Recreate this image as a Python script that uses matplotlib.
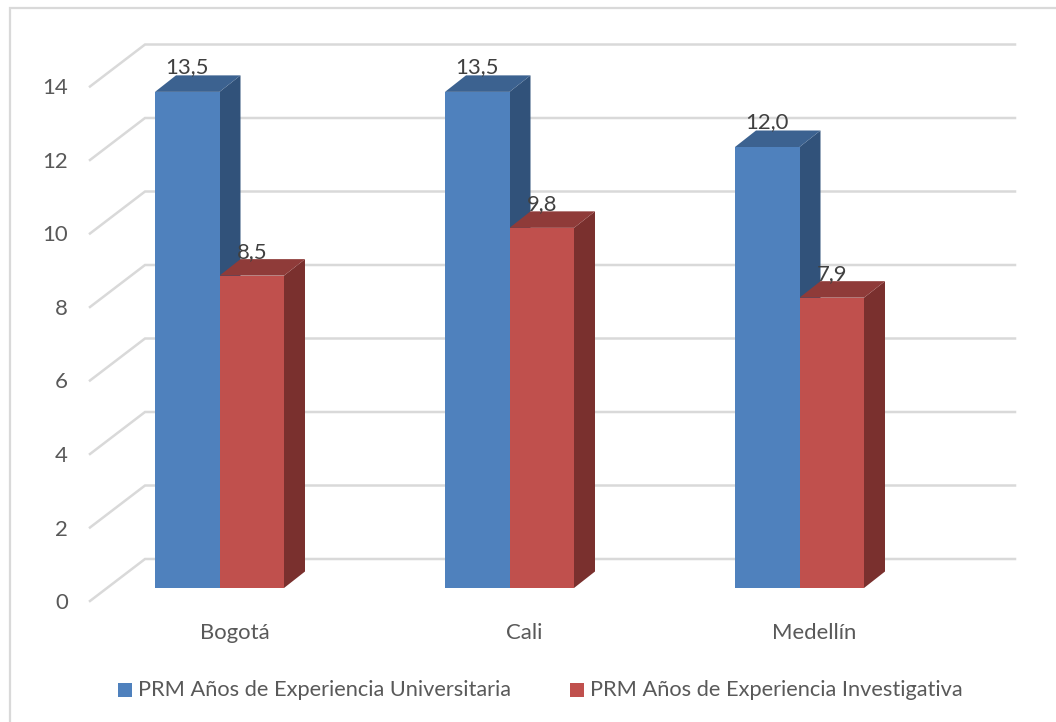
import matplotlib
matplotlib.use("Agg")
import matplotlib.pyplot as plt
from matplotlib.patches import Polygon, Rectangle

plt.rcParams["font.family"] = ["Lato", "DejaVu Sans"]

cities = ["Bogotá", "Cali", "Medellín"]
series_names = ["PRM Años de Experiencia Universitaria", "PRM Años de Experiencia Investigativa"]
university = [13.5, 13.5, 12.0]
research = [8.5, 9.8, 7.9]
value_labels_u = ["13,5", "13,5", "12,0"]
value_labels_r = ["8,5", "9,8", "7,9"]
y_ticks = [0, 2, 4, 6, 8, 10, 12, 14]

FRONT = ["#4f81bd", "#c0504d"]
TOP = ["#3c6290", "#8f3b39"]
SIDE = ["#31527a", "#7a302e"]
GRID = "#d9d9d9"
TEXT = "#595959"
FONT_SIZE = 15.9
LEGEND_SIZE = 15.7

W, H = 1056, 722
PX_X = 290.0          # pixels per category
PX_Y = 36.75          # pixels per unit of value
X0, Y0 = 219.5, 588.0  # pixel position of category 0, value 0

fig = plt.figure(figsize=(W / 100, H / 100), dpi=100, facecolor="white")
ax = fig.add_axes([0, 0, 1, 1])
ax.set_xlim(-X0 / PX_X, (W - X0) / PX_X)
ax.set_ylim((Y0 - H) / PX_Y, Y0 / PX_Y)
ax.axis("off")


def dx(px):
    return px / PX_X


def dy(px):
    return px / PX_Y


# Outer chart frame: only the top and left edges fall inside the figure
ax.plot([dx(10 - X0), dx(10 - X0), dx(W - X0)],
        [dy(Y0 - H), dy(Y0 - 8.5), dy(Y0 - 8.5)],
        color=GRID, lw=1.6, solid_joinstyle="miter", zorder=1)

# Wall gridlines with the diagonal run along the floor side
left_front, left_back, right_back = dx(90 - X0), dx(145 - X0), dx(1015 - X0)
for t in y_ticks:
    ax.plot([left_front, left_back, right_back],
            [t - dy(13), t + dy(29), t + dy(29)],
            color=GRID, lw=1.8, solid_joinstyle="miter", zorder=2)
    ax.text(dx(68 - X0), t - dy(15), str(t), ha="right", va="center",
            fontsize=FONT_SIZE, color=TEXT, zorder=6)

# Extruded bars
BAR_W = 64.5 / PX_X
DEPTH_X, DEPTH_Y = dx(21), dy(16.5)


def bar3d(x_left, value, idx):
    x_right = x_left + BAR_W
    ax.add_patch(Polygon([(x_right, 0), (x_right + DEPTH_X, DEPTH_Y),
                          (x_right + DEPTH_X, value + DEPTH_Y), (x_right, value)],
                         fc=SIDE[idx], ec="none", zorder=3))
    ax.add_patch(Polygon([(x_left, value), (x_right, value),
                          (x_right + DEPTH_X, value + DEPTH_Y), (x_left + DEPTH_X, value + DEPTH_Y)],
                         fc=TOP[idx], ec="none", zorder=3))
    ax.add_patch(Rectangle((x_left, 0), BAR_W, value, fc=FRONT[idx], ec="none", zorder=4))


for i, city in enumerate(cities):
    bar3d(i - BAR_W, university[i], 0)
    bar3d(i, research[i], 1)
    ax.text(i - BAR_W + dx(32), university[i] + dy(25), value_labels_u[i], ha="center", va="center",
            fontsize=FONT_SIZE, color="#404040", zorder=7)
    ax.text(i + dx(32.5), research[i] + dy(24), value_labels_r[i], ha="center", va="center",
            fontsize=FONT_SIZE, color="#404040", zorder=7)
    ax.text(i + dx(15), dy(Y0 - 633), city, ha="center", va="center",
            fontsize=FONT_SIZE, color=TEXT, zorder=6)

# Legend row
legend_y = dy(Y0 - 690)
for x_px, name, color in zip((118, 570), series_names, FRONT):
    ax.add_patch(Rectangle((dx(x_px - X0), legend_y - dy(7)), dx(14), dy(14), fc=color, ec="none", zorder=6))
    ax.text(dx(x_px + 20 - X0), legend_y + dy(0.5), name, ha="left", va="center",
            fontsize=LEGEND_SIZE, color=TEXT, zorder=6)

fig.savefig("out.png", dpi=100)
